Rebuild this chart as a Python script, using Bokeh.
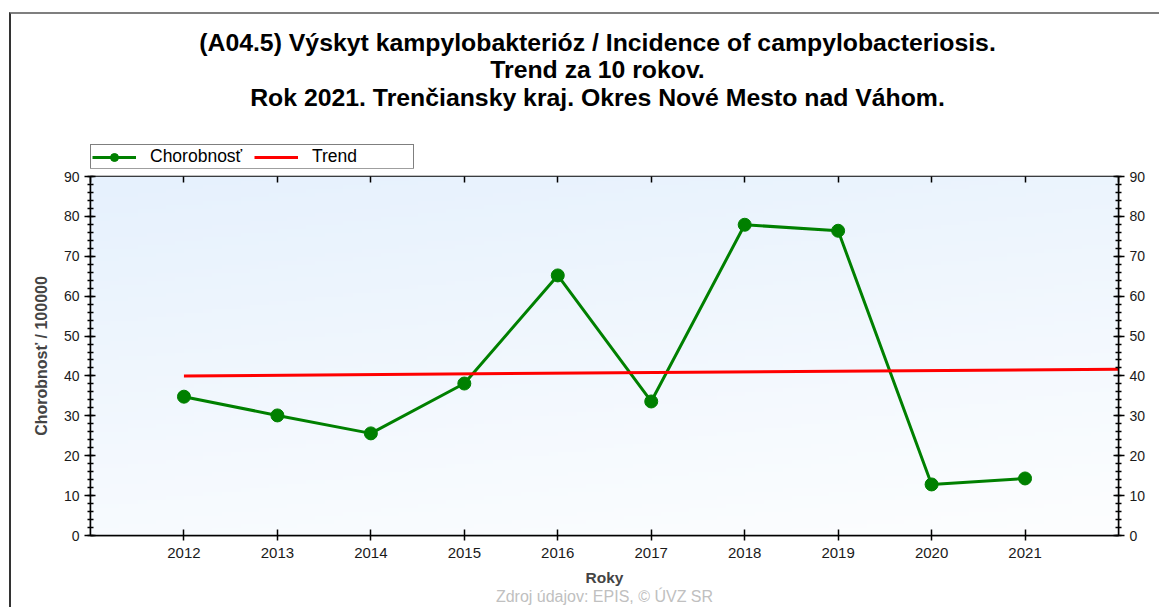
import numpy as np
from bokeh.plotting import figure
from bokeh.layouts import column
from bokeh.models import (LinearAxis, SingleIntervalTicker, FixedTicker, Title,
                          Legend, LegendItem, Range1d, ColumnDataSource)
from bokeh.core.properties import value
from bokeh.embed import file_html
from bokeh.resources import INLINE

# ---- data ----
years = [2012, 2013, 2014, 2015, 2016, 2017, 2018, 2019, 2020, 2021]
incidence = [34.8, 30.1, 25.6, 38.1, 65.2, 33.6, 77.9, 76.4, 12.8, 14.3]
trend_years = [2012, 2022]
trend_values = [40.0, 41.7]
title_lines = [
    "(A04.5) Výskyt kampylobakterióz / Incidence of campylobacteriosis.",
    "Trend za 10 rokov.",
    "Rok 2021. Trenčiansky kraj. Okres Nové Mesto nad Váhom.",
]
y_label = "Chorobnosť / 100000"
x_label = "Roky"
source_note = "Zdroj údajov: EPIS, © ÚVZ SR"
legend_labels = ["Chorobnosť", "Trend"]

FONT = "Liberation Sans"
GREEN = "#008000"
RED = "#ff0000"
W = 1150
FRAME_W = 1028
HEAD_H = 156
MAIN_H = 439

# ---------------- header (titles + legend) ----------------
# frame of the header is aligned with the main chart frame by the column layout
h = figure(width=W, height=HEAD_H, output_backend="svg", toolbar_location=None,
           x_range=Range1d(0, FRAME_W), y_range=Range1d(0, HEAD_H),
           x_axis_type=None, y_axis_type=None,
           min_border_left=79, min_border_right=43,
           min_border_top=0, min_border_bottom=0,
           outline_line_color=None, background_fill_color="white",
           border_fill_color="white")
h.grid.visible = False
h.styles = {"border-top": "2px solid #7f7f7f", "border-left": "2px solid #333333"}

title_src = ColumnDataSource(dict(x=[507, 507, 507], y=[128, 101, 73],
                                  text=title_lines))
h.text(x="x", y="y", text="text", source=title_src, text_align="center",
       text_baseline="middle", text_font=value(FONT), text_font_style="bold",
       text_font_size="24.8px", text_color="black")

# legend proxies (their data lies outside the header's visible range)
d_line = h.line(years, incidence, line_color=GREEN, line_width=3)
d_pts = h.scatter(years, incidence, size=12, fill_color=GREEN, line_color=GREEN)
d_trend = h.line(trend_years, trend_values, line_color=RED, line_width=3)
legend = Legend(items=[LegendItem(label=legend_labels[0], renderers=[d_line, d_pts]),
                       LegendItem(label=legend_labels[1], renderers=[d_trend])],
                orientation="horizontal", location=(0, 1),
                label_text_font=FONT, label_text_font_size="17.5px",
                label_text_color="black",
                label_width=100, glyph_width=44, glyph_height=20,
                label_height=20, label_standoff=14, spacing=4, padding=1,
                margin=0, border_line_color="black", border_line_width=1.5,
                background_fill_color="white", background_fill_alpha=1)
h.add_layout(legend, "center")

# ---------------- main chart ----------------
p = figure(width=W, height=MAIN_H, output_backend="svg", toolbar_location=None,
           x_range=Range1d(2011, 2022), y_range=Range1d(0, 90),
           min_border_left=79, min_border_right=43, min_border_top=8,
           min_border_bottom=72, background_fill_color="white",
           border_fill_color="white", outline_line_color="black",
           outline_line_width=1.5)
p.styles = {"border-left": "2px solid #333333"}
p.grid.visible = False

# background gradient
ny, nx = 90, 110
img = np.empty((ny, nx), dtype=np.uint32)
view = img.view(dtype=np.uint8).reshape((ny, nx, 4))
yy = np.linspace(0, 1, ny)[:, None]   # 0 bottom -> 1 top
xx = np.linspace(0, 1, nx)[None, :]
t = np.clip(0.75 * yy + 0.25 * (1 - xx), 0, 1)
top = np.array([230, 241, 253])
bot = np.array([253, 254, 255])
for c in range(3):
    view[:, :, c] = (bot[c] + (top[c] - bot[c]) * t).astype(np.uint8)
view[:, :, 3] = 255
p.image_rgba(image=[img], x=2011, y=0, dw=11, dh=90)

# series
p.line(years, incidence, line_color=GREEN, line_width=3)
p.scatter(years, incidence, size=13, fill_color=GREEN, line_color=GREEN)
p.line(trend_years, trend_values, line_color=RED, line_width=3)

# axes
ax_b = p.xaxis[0]
ax_b.ticker = FixedTicker(ticks=years)
ax_b.major_tick_in = 6
ax_b.major_tick_out = 5
ax_b.minor_tick_line_color = None
ax_b.axis_label = x_label
ax_b.axis_label_text_font = FONT
ax_b.axis_label_text_font_style = "bold"
ax_b.axis_label_text_font_size = "15.5px"
ax_b.axis_label_standoff = 8
ax_b.major_label_text_font = FONT
ax_b.major_label_text_font_size = "15px"
ax_b.major_label_text_color = "#1a1a1a"
ax_b.major_label_standoff = 7
ax_b.axis_line_width = 1.5
ax_b.major_tick_line_width = 1.5

ax_top = LinearAxis(ticker=FixedTicker(ticks=list(range(2011, 2023))),
                    major_tick_in=6, major_tick_out=0,
                    minor_tick_line_color=None,
                    major_label_text_font_size="0px",
                    major_label_standoff=0,
                    major_label_text_color=None, axis_line_color=None,
                    major_tick_line_width=1.5)
p.add_layout(ax_top, "above")

def style_y(ax):
    ax.ticker = SingleIntervalTicker(interval=10, num_minor_ticks=5)
    ax.major_tick_in = 5
    ax.major_tick_out = 6
    ax.minor_tick_in = 3
    ax.minor_tick_out = 3
    ax.major_tick_line_width = 1.5
    ax.minor_tick_line_width = 1.5
    ax.axis_line_width = 1.5
    ax.major_label_text_font = FONT
    ax.major_label_text_font_size = "14px"
    ax.major_label_text_color = "#1a1a1a"
    ax.major_label_standoff = 5

ax_l = p.yaxis[0]
style_y(ax_l)
ax_l.axis_label = y_label
ax_l.axis_label_text_font = FONT
ax_l.axis_label_text_font_style = "bold"
ax_l.axis_label_text_font_size = "16px"
ax_l.axis_label_standoff = 11

ax_r = LinearAxis()
style_y(ax_r)
p.add_layout(ax_r, "right")

# source note below
p.add_layout(Title(text=source_note, align="center", text_font=FONT,
                   text_font_style="normal", text_font_size="16px",
                   text_color="#c0c0c0", standoff=-6, offset=-10), "below")

layout = column(h, p, spacing=0, margin=(12, 0, 0, 9))
open("out.html", "w").write(file_html(layout, INLINE))
